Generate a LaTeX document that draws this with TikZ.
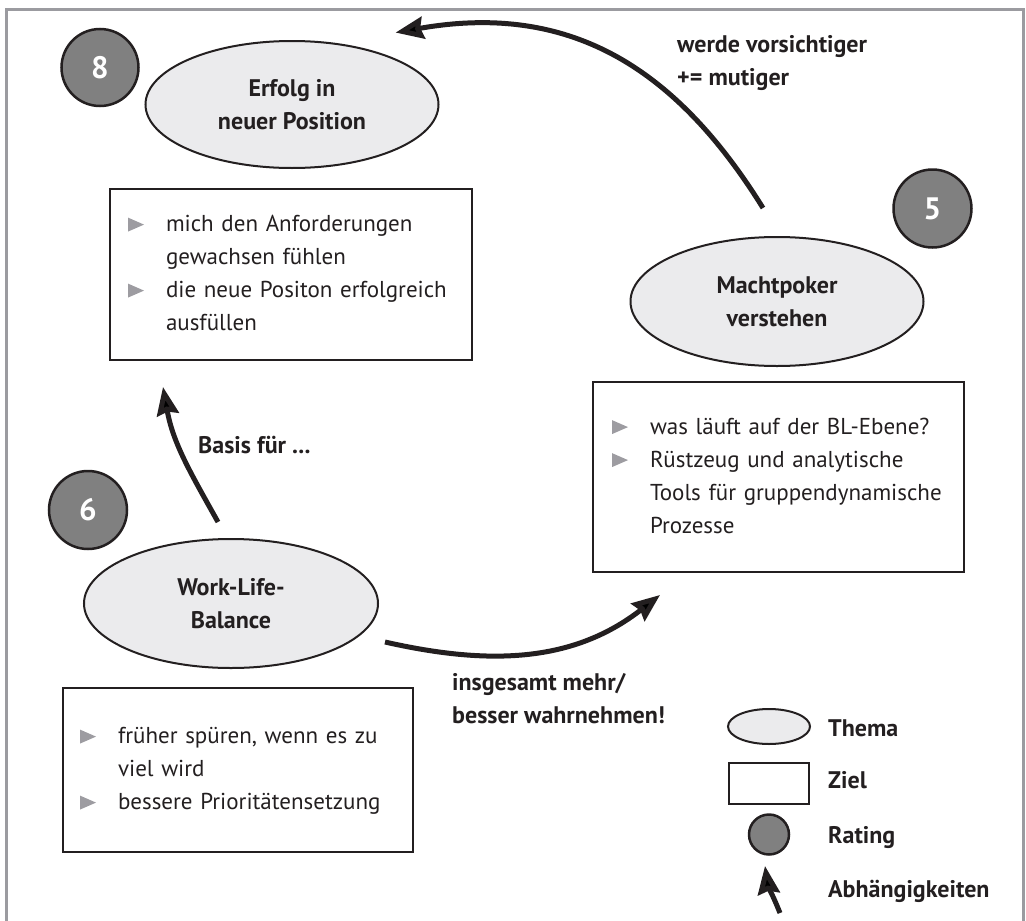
\documentclass[tikz,border=0pt]{standalone}
\usepackage{fontspec}
\setmainfont{PT Sans}
\usetikzlibrary{shapes.geometric,arrows.meta}

\definecolor{ink}{HTML}{231F20}
\definecolor{framegray}{HTML}{9B9BA0}
\definecolor{themefill}{HTML}{EBEBED}
\definecolor{ratefill}{HTML}{808080}
\definecolor{trigray}{HTML}{9D9CA1}

\newcommand{\txt}{\fontsize{23}{33}\selectfont}
\newcommand{\btxt}{\fontsize{24}{33}\selectfont\bfseries}
\newcommand{\tri}{\tikz\fill[trigray] (0pt,0pt) -- (0pt,14pt) -- (16pt,7pt) -- cycle;}

\tikzset{
	thema/.style={ellipse,draw=ink,line width=2pt,fill=themefill,inner sep=0,outer sep=0,align=center,text=ink,font=\btxt},
	ziel/.style={rectangle,draw=ink,line width=2.5pt,inner sep=0,outer sep=0,align=left,text=ink,font=\txt},
	rating/.style={circle,draw=ink,line width=2.5pt,fill=ratefill,inner sep=0,outer sep=0,text=white,font=\fontsize{31}{31}\selectfont\bfseries},
	note/.style={anchor=base west,inner sep=0,text=ink,font=\btxt},
	dep/.style={draw=ink,line width=5pt,-{Stealth[length=28pt,width=22pt,inset=3pt]}}
}

\begin{document}
\begin{tikzpicture}[x=1pt,y=-1pt]
	\useasboundingbox (0,0) rectangle (1026,921);
	\draw[framegray,line width=3pt] (6,921) -- (6,9) -- (1023.5,9) -- (1023.5,921);
	\node[rating,minimum size=77pt] (r1) at (100,67.5) {8};
	\node[rating,minimum size=78pt] (r2) at (932.5,208.5) {5};
	\node[rating,minimum size=78pt] (r3) at (88,510) {6};
	\node[thema,minimum width=293pt,minimum height=127pt] (t1) at (292,104.5) {Erfolg in\\neuer Position};
	\node[thema,minimum width=293pt,minimum height=129pt] (t2) at (777,301.5) {Machtpoker\\verstehen};
	\node[thema,minimum width=294pt,minimum height=129pt] (t3) at (231,603.5) {Work-Life-\\Balance};
	\node[ziel,minimum width=362pt,minimum height=171pt,text width=326pt] (z1) at (291,274.5) {\begin{tabular}{@{}l@{\hspace{22pt}}l@{}}
		\tri & mich den Anforderungen\\
		& gewachsen fühlen\\
		\tri & die neue Positon erfolgreich\\
		& ausfüllen
	\end{tabular}};
	\node[ziel,minimum width=371pt,minimum height=190pt,text width=333pt] (z2) at (778.5,477) {\begin{tabular}{@{}l@{\hspace{22pt}}l@{}}
		\tri & was läuft auf der BL-Ebene?\\
		\tri & Rüstzeug und analytische\\
		& Tools für gruppendynamische\\
		& Prozesse
	\end{tabular}};
	\node[ziel,minimum width=350pt,minimum height=164pt,text width=316pt] (z3) at (238,770) {\begin{tabular}{@{}l@{\hspace{22pt}}l@{}}
		\tri & früher spüren, wenn es zu\\
		& viel wird\\
		\tri & bessere Prioritätensetzung
	\end{tabular}};
	\draw[dep] ([xshift=-14pt,yshift=29pt]t2.north) .. controls +(-90,-145) and +(170,-30) .. ([yshift=27pt]t1.north east);
	\draw[dep] ([xshift=-13pt,yshift=17pt]t3.north) .. controls +(-28,-50) and +(10,56) .. ([xshift=-128pt,yshift=-27pt]z1.south);
	\draw[dep] ([xshift=7pt,yshift=-38.5pt]t3.east) .. controls +(106,24) and +(-86,67) .. ([xshift=67pt,yshift=-23pt]z2.south west);
	\node[note] (n1) at (677,52) {\begin{tabular}[t]{@{}l@{}}werde vorsichtiger\\+= mutiger\end{tabular}};
	\node[note] (n2) at (198,453) {Basis für ...};
	\node[note] (n3) at (452,690) {\begin{tabular}[t]{@{}l@{}}insgesamt mehr/\\besser wahrnehmen!\end{tabular}};
	\node[thema,minimum width=82pt,minimum height=35pt] (t0) at (769,726.5) {};
	\node[ziel,minimum width=80pt,minimum height=41pt] (z0) at (769,783.5) {};
	\node[rating,minimum size=40pt] (r0) at (769,834.5) {};
	\coordinate (a0) at (780,913);
	\coordinate (a1) at (765,866);
	\draw[dep] (a0) to[out=112,in=-82] (a1);
	\node[note] (l1) at (828,736) {Thema};
	\node[note] (l2) at (828,788) {Ziel};
	\node[note] (l3) at (828,843) {Rating};
	\node[note] (l4) at (828,897) {Abhängigkeiten};
\end{tikzpicture}
\end{document}
